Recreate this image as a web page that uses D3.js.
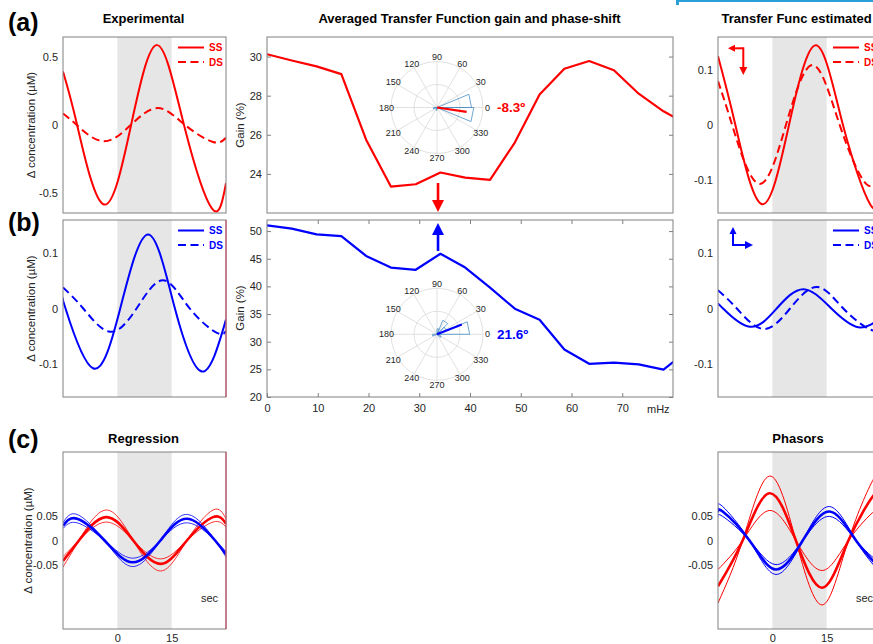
<!DOCTYPE html>
<html>
<head>
<meta charset="utf-8">
<script src="https://cdn.jsdelivr.net/npm/d3@7"></script>
<style>
  body { margin: 0; background: #fff; }
  svg { display: block; }
</style>
</head>
<body>
<div id="chart"></div>
<script>
// ---- Data ----
const secDomain = [-15, 30]
const stimWindow = [0, 15]

// (a) Experimental, red
const expRedSST = [-15, -11.1, -3.7, 3.8, 11.0, 18.4, 26.2, 30]
const expRedSS = [0.395, 0, -0.587, 0, 0.59, 0, -0.62, -0.43]
const expRedDST = [-15, -11.2, -3.9, 3.7, 11.2, 18.7, 26.4, 30]
const expRedDS = [0.085, 0, -0.12, 0, 0.125, 0, -0.125, -0.094]
// (b) Experimental, blue
const expBlueSST = [-15, -14.3, -6.7, 0.8, 8.5, 15.9, 23.4, 30]
const expBlueSS = [0.016, 0, -0.108, 0, 0.134, 0, -0.114, -0.02]
const expBlueDST = [-15, -9.4, -2.0, 5.3, 12.6, 20.0, 27.5, 30]
const expBlueDS = [0.038, 0, -0.042, 0, 0.051, 0, -0.044, -0.04]

// Transfer function estimated
const tfRedSST = [-15, -10.2, -2.85, 4.6, 12.1, 19.5, 27.0, 30]
const tfRedSS = [0.125, 0, -0.144, 0, 0.145, 0, -0.144, -0.13]
const tfRedDST = [-15, -11.1, -3.7, 3.75, 11.2, 18.6, 25.9, 30]
const tfRedDS = [0.08, 0, -0.107, 0, 0.109, 0, -0.107, -0.085]
const tfBlueSST = [-15, -13.6, -6.2, 1.2, 8.6, 16.3, 23.8, 30]
const tfBlueSS = [0.008, 0, -0.033, 0, 0.035, 0, -0.034, -0.016]
const tfBlueDST = [-15, -9.8, -2.5, 4.9, 12.3, 19.6, 27.0, 30]
const tfBlueDS = [0.033, 0, -0.037, 0, 0.039, 0, -0.038, -0.033]

// (c) Regression (mean and band)
const regRedT = [-15, -10.6, -3.2, 4.4, 12.0, 19.2, 26.4, 30]
const regRed = [-0.0415, 0, 0.0476, 0, -0.0476, 0, 0.0476, 0.034]
const regRedHi = [-0.054, 0, 0.062, 0, -0.062, 0, 0.062, 0.044]
const regRedLo = [-0.0327, 0, 0.0375, 0, -0.0375, 0, 0.0375, 0.027]
const regBlueT = [-15, -11.1, -3.5, 4.2, 11.9, 19.4, 27.0, 30]
const regBlue = [0.030, 0.0443, 0, -0.0443, 0, 0.0443, 0, -0.028]
const regBlueHi = [0.036, 0.053, 0, -0.053, 0, 0.053, 0, -0.034]
const regBlueLo = [0.0245, 0.036, 0, -0.036, 0, 0.036, 0, -0.023]

// (c) Phasors (mean and band)
const phRedT = [-15, -8.2, -0.8, 6.5, 13.8, 21.0, 28.4, 30]
const phRed = [-0.093, 0, 0.096, 0, -0.096, 0, 0.096, 0.090]
const phRedHi = [-0.127, 0, 0.131, 0, -0.131, 0, 0.131, 0.123]
const phRedLo = [-0.059, 0, 0.061, 0, -0.061, 0, 0.061, 0.057]
const phBlueT = [-15, -13.7, -6.3, 1.0, 8.4, 15.8, 23.1, 30]
const phBlue = [0.057, 0.059, 0, -0.059, 0, 0.059, 0, -0.058]
const phBlueHi = [0.067, 0.069, 0, -0.069, 0, 0.069, 0, -0.068]
const phBlueLo = [0.047, 0.049, 0, -0.049, 0, 0.049, 0, -0.048]

// Averaged transfer function gain (%)
const freqs = [0, 4.88, 9.77, 14.65, 19.53, 24.41, 29.30, 34.18, 39.06, 43.95, 48.83, 53.71, 58.59, 63.48, 68.36, 73.24, 78.13, 83.01]
const gainA = [30.12, 29.8, 29.5, 29.1, 25.75, 23.35, 23.47, 24.07, 23.81, 23.69, 25.6, 28.06, 29.38, 29.77, 29.3, 28.1, 27.2, 26.5]
const gainB = [51.03, 50.43, 49.4, 49.1, 45.5, 43.4, 43.0, 45.9, 43.4, 39.77, 35.97, 33.98, 28.6, 26.0, 26.2, 25.9, 24.95, 28.5]
const markFreq = 33.7

// Phase-shift roses: [startDeg, endDeg, relative count]
const roseA = [[0, 22.5, 0.75], [-22.5, 0, 0.8], [180, 202.5, 0.08], [247.5, 270, 0.06]]
const roseB = [[0, 22.5, 0.71], [22.5, 45, 0.22], [45, 67.5, 0.33], [67.5, 90, 0.12], [180, 202.5, 0.1], [-45, -22.5, 0.1]]
const phaseA = -8.3, phaseB = 21.6
const phaseLenA = 0.65, phaseLenB = 0.58
const polarTicks = d3.range(0, 360, 30)

// Tick labels
const ticksExpA = [-0.5, 0, 0.5]
const ticksSmall = [-0.1, 0, 0.1]
const ticksC = [-0.05, 0, 0.05]
const ticksGainA = [24, 26, 28, 30]
const ticksGainB = [20, 25, 30, 35, 40, 45, 50]
const ticksFreq = [0, 10, 20, 30, 40, 50, 60, 70]

// ---- Setup ----
const W = 873, H = 644
const FONT = '"Liberation Sans", Arial, Helvetica, sans-serif'
const RED = '#ff0000', BLUE = '#0000ff', INK = '#262626', FRAME = '#808080', BAND = '#e6e6e6'

const svg = d3.select('#chart').append('svg')
  .attr('width', W).attr('height', H)
  .attr('viewBox', `0 0 ${W} ${H}`)
  .style('font-family', FONT)

const colL = { x: 63, w: 163 }, colM = { x: 267, w: 406 }, colR = { x: 718, w: 163 }
const rowA = { y: 37, h: 176 }, rowB = { y: 220, h: 177 }, rowC = { y: 452, h: 177 }

let clipN = 0
function panel(col, row, xDomain, yDomain) {
  const box = { x: col.x, y: row.y, w: col.w, h: row.h }
  const g = svg.append('g').attr('transform', `translate(${box.x},${box.y})`)
  const x = d3.scaleLinear().domain(xDomain).range([0, box.w])
  const y = d3.scaleLinear().domain(yDomain).range([box.h, 0])
  const id = 'clip' + (clipN++)
  g.append('clipPath').attr('id', id).append('rect').attr('width', box.w).attr('height', box.h)
  const plot = g.append('g').attr('clip-path', `url(#${id})`)
  return { g, plot, x, y, box }
}

function styleAxis(sel) {
  sel.select('.domain').remove()
  sel.selectAll('line').attr('stroke', FRAME)
  sel.selectAll('text').attr('fill', INK).attr('font-size', 11).attr('font-family', FONT)
}

function frame(p, rightColor) {
  p.g.append('rect').attr('width', p.box.w).attr('height', p.box.h)
    .attr('fill', 'none').attr('stroke', FRAME).attr('stroke-width', 1)
  if (rightColor) {
    p.g.append('line').attr('x1', p.box.w).attr('x2', p.box.w).attr('y1', 0).attr('y2', p.box.h)
      .attr('stroke', rightColor).attr('stroke-width', 1)
  }
}

const sineLine = p => d3.line().x(d => p.x(d[0])).y(d => p.y(d[1])).curve(d3.curveNatural)

function sinePanel(col, row, yDomain, yTicks, series, opts = {}) {
  const p = panel(col, row, secDomain, yDomain)
  p.plot.append('rect')
    .attr('x', p.x(stimWindow[0])).attr('width', p.x(stimWindow[1]) - p.x(stimWindow[0]))
    .attr('height', p.box.h).attr('fill', BAND)
  const line = sineLine(p)
  p.plot.selectAll('path.curve').data(series).join('path')
    .attr('class', 'curve')
    .attr('d', s => line(d3.zip(s.t, s.v)))
    .attr('fill', 'none')
    .attr('stroke', s => s.color)
    .attr('stroke-width', s => s.width || 2)
    .attr('stroke-dasharray', s => s.dash ? '8,4.5' : null)

  p.g.append('g')
    .call(d3.axisLeft(p.y).tickValues(yTicks).tickSize(0).tickPadding(5).tickFormat(d => String(d)))
    .call(styleAxis)

  if (opts.xTicks) {
    p.g.append('g').attr('transform', `translate(0,${p.box.h})`)
      .call(d3.axisBottom(p.x).tickValues(opts.xTicks).tickSize(0).tickPadding(5).tickFormat(d => String(d)))
      .call(styleAxis)
  }
  frame(p, opts.rightColor)

  if (opts.legend) {
    const lg = p.g.append('g')
    opts.legend.forEach((it, i) => {
      const yy = 10.5 + i * 14.5
      lg.append('line').attr('x1', 115).attr('x2', 141).attr('y1', yy).attr('y2', yy)
        .attr('stroke', it.color).attr('stroke-width', 2)
        .attr('stroke-dasharray', it.dash ? '8,4.5' : null)
      lg.append('text').attr('x', 146).attr('y', yy).attr('dy', '0.35em')
        .attr('fill', it.color).attr('font-size', 10).attr('font-weight', 'bold').text(it.label)
    })
  }
  if (opts.sec) {
    p.g.append('text').attr('x', p.box.w - 25).attr('y', 149.5)
      .attr('fill', INK).attr('font-size', 11).text('sec')
  }
  return p
}

function arrow(g, x1, y1, x2, y2, color, w, head) {
  const ang = Math.atan2(y2 - y1, x2 - x1)
  const bx = x2 - head * Math.cos(ang), by = y2 - head * Math.sin(ang)
  g.append('line').attr('x1', x1).attr('y1', y1).attr('x2', bx).attr('y2', by)
    .attr('stroke', color).attr('stroke-width', w)
  const hw = head * 0.5
  const pts = [[x2, y2],
    [bx + hw * Math.sin(ang), by - hw * Math.cos(ang)],
    [bx - hw * Math.sin(ang), by + hw * Math.cos(ang)]]
  g.append('polygon').attr('points', pts.map(d => d.join(',')).join(' ')).attr('fill', color)
}

function ylabel(x, y, txt) {
  svg.append('text').attr('transform', `translate(${x},${y}) rotate(-90)`)
    .attr('text-anchor', 'middle').attr('fill', INK).attr('font-size', 11.5).text(txt)
}

function title(x, y, txt, anchor = 'middle') {
  svg.append('text').attr('x', x).attr('y', y).attr('text-anchor', anchor)
    .attr('font-size', 13).attr('font-weight', 'bold').attr('fill', '#000').text(txt)
}

// ---- Left column ----
const legRed = [{ label: 'SS', color: RED }, { label: 'DS', color: RED, dash: true }]
const legBlue = [{ label: 'SS', color: BLUE }, { label: 'DS', color: BLUE, dash: true }]

sinePanel(colL, rowA, [-0.65, 0.65], ticksExpA, [
  { t: expRedDST, v: expRedDS, color: RED, dash: true },
  { t: expRedSST, v: expRedSS, color: RED }
], { legend: legRed })

sinePanel(colL, rowB, [-0.16, 0.16], ticksSmall, [
  { t: expBlueDST, v: expBlueDS, color: BLUE, dash: true },
  { t: expBlueSST, v: expBlueSS, color: BLUE }
], { legend: legBlue, rightColor: '#c0405a' })

sinePanel(colL, rowC, [-0.18, 0.18], ticksC, [
  { t: regRedT, v: regRedHi, color: RED, width: 0.8 },
  { t: regRedT, v: regRedLo, color: RED, width: 0.8 },
  { t: regBlueT, v: regBlueHi, color: BLUE, width: 0.8 },
  { t: regBlueT, v: regBlueLo, color: BLUE, width: 0.8 },
  { t: regRedT, v: regRed, color: RED, width: 2.6 },
  { t: regBlueT, v: regBlue, color: BLUE, width: 2.6 }
], { xTicks: stimWindow, sec: true, rightColor: '#c0405a' })

// ---- Right column ----
const tfA = sinePanel(colR, rowA, [-0.16, 0.16], ticksSmall, [
  { t: tfRedDST, v: tfRedDS, color: RED, dash: true },
  { t: tfRedSST, v: tfRedSS, color: RED }
], { legend: legRed })
arrow(tfA.g, 25.3, 11.3, 10, 11.3, RED, 2, 7)
arrow(tfA.g, 25.3, 10.3, 25.3, 38, RED, 2, 8)

const tfB = sinePanel(colR, rowB, [-0.16, 0.16], ticksSmall, [
  { t: tfBlueDST, v: tfBlueDS, color: BLUE, dash: true },
  { t: tfBlueSST, v: tfBlueSS, color: BLUE }
], { legend: legBlue })
arrow(tfB.g, 15, 25, 15, 7, BLUE, 2, 7)
arrow(tfB.g, 14, 25, 35, 25, BLUE, 2, 8)

sinePanel(colR, rowC, [-0.18, 0.18], ticksC, [
  { t: phRedT, v: phRedHi, color: RED, width: 1 },
  { t: phRedT, v: phRedLo, color: RED, width: 1 },
  { t: phBlueT, v: phBlueHi, color: BLUE, width: 1 },
  { t: phBlueT, v: phBlueLo, color: BLUE, width: 1 },
  { t: phRedT, v: phRed, color: RED, width: 2.6 },
  { t: phBlueT, v: phBlue, color: BLUE, width: 2.6 }
], { xTicks: stimWindow, sec: true })

// ---- Middle: gain ----
function gainPanel(row, yDomain, yTicks, gains, color, showX) {
  const p = panel(colM, row, [0, 80], yDomain)
  const line = d3.line().x((d, i) => p.x(freqs[i])).y(d => p.y(d))
  p.plot.append('path').datum(gains).attr('d', line)
    .attr('fill', 'none').attr('stroke', color).attr('stroke-width', 2.2)
    .attr('stroke-linejoin', 'round')
  p.g.append('g')
    .call(d3.axisLeft(p.y).tickValues(yTicks).tickSizeInner(-4).tickSizeOuter(0).tickPadding(5).tickFormat(d => String(d)))
    .call(styleAxis)
  p.g.append('g').attr('transform', `translate(${p.box.w},0)`)
    .call(d3.axisRight(p.y).tickValues(yTicks).tickSizeInner(-4).tickSizeOuter(0).tickFormat(''))
    .call(styleAxis)
  if (showX) {
    p.g.append('g').attr('transform', `translate(0,${p.box.h})`)
      .call(d3.axisBottom(p.x).tickValues(ticksFreq).tickSizeInner(-4).tickSizeOuter(0).tickPadding(7).tickFormat(d => String(d)))
      .call(styleAxis)
    p.g.append('g')
      .call(d3.axisTop(p.x).tickValues(ticksFreq.slice(1)).tickSizeInner(-4).tickSizeOuter(0).tickFormat(''))
      .call(styleAxis)
    p.g.append('text').attr('x', 380).attr('y', p.box.h + 15.7)
      .attr('fill', INK).attr('font-size', 11).text('mHz')
  }
  frame(p)
  return p
}

const gA = gainPanel(rowA, [22, 31], ticksGainA, gainA, RED, false)
arrow(gA.g, gA.x(markFreq), 146, gA.x(markFreq), 175, RED, 2.6, 12)
const gB = gainPanel(rowB, [20, 52], ticksGainB, gainB, BLUE, true)
arrow(gB.g, gB.x(markFreq), 31, gB.x(markFreq), 3, BLUE, 2.6, 12)

// ---- Polar insets ----
function polarInset(cx, cy, rose, phase, len, color, label) {
  const g = svg.append('g').attr('transform', `translate(${cx},${cy})`)
  const r = d3.scaleLinear().domain([0, 1]).range([0, 46])
  const pt = (deg, v) => [r(v) * Math.cos(-deg * Math.PI / 180), r(v) * Math.sin(-deg * Math.PI / 180)]
  const GRID = '#dedede'
  polarTicks.filter(a => a < 180).forEach(a => {
    const p1 = pt(a, 1), p2 = pt(a + 180, 1)
    g.append('line').attr('x1', p1[0]).attr('y1', p1[1]).attr('x2', p2[0]).attr('y2', p2[1])
      .attr('stroke', GRID).attr('stroke-width', 0.9)
  })
  ;[0.5, 1].forEach(v => g.append('circle').attr('r', r(v))
    .attr('fill', 'none').attr('stroke', GRID).attr('stroke-width', 0.9))
  polarTicks.forEach(a => {
    const p = pt(a, 1.1)
    g.append('text').attr('x', p[0]).attr('y', p[1]).attr('dy', '0.35em')
      .attr('text-anchor', 'middle').attr('font-size', 9).attr('fill', INK).text(a)
  })
  rose.forEach(b => {
    const p1 = pt(b[0], b[2]), p2 = pt(b[1], b[2])
    g.append('path').attr('d', `M0,0L${p1}L${p2}Z`)
      .attr('fill', 'none').attr('stroke', '#4a8fc4').attr('stroke-width', 0.8)
  })
  const e = pt(phase, len)
  g.append('line').attr('x1', 0).attr('y1', 0).attr('x2', e[0]).attr('y2', e[1])
    .attr('stroke', color).attr('stroke-width', 2.2)
  g.append('text').attr('x', 60).attr('y', 0).attr('dy', '0.36em')
    .attr('font-size', 13.5).attr('font-weight', 'bold').attr('fill', color).text(label)
}

polarInset(437, 107.5, roseA, phaseA, phaseLenA, RED, '-8.3º')
polarInset(437, 334.3, roseB, phaseB, phaseLenB, BLUE, '21.6º')

// ---- Titles and labels ----
title(143.5, 23, 'Experimental')
title(469.5, 23, 'Averaged Transfer Function gain and phase-shift')
title(721.5, 23, 'Transfer Func estimated', 'start')
title(143.5, 442.5, 'Regression')
title(798, 442.5, 'Phasors')

ylabel(34.5, 125, 'Δ concentration (µM)')
ylabel(34.5, 308.5, 'Δ concentration (µM)')
ylabel(31.5, 540.5, 'Δ concentration (µM)')
ylabel(244, 125, 'Gain (%)')
ylabel(244, 308, 'Gain (%)')

;[['(a)', 31], ['(b)', 231], ['(c)', 448]].forEach(([t, y]) => {
  svg.append('text').attr('x', 8).attr('y', y).attr('font-size', 25)
    .attr('font-weight', 'bold').attr('fill', '#000').text(t)
})

// blue strip at the top right edge
svg.append('rect').attr('x', 676).attr('y', 0).attr('width', W - 676).attr('height', 2).attr('fill', '#2a9fd8')
svg.append('rect').attr('x', 676).attr('y', 0).attr('width', 3).attr('height', 5).attr('fill', '#2a9fd8')
</script>
</body>
</html>
